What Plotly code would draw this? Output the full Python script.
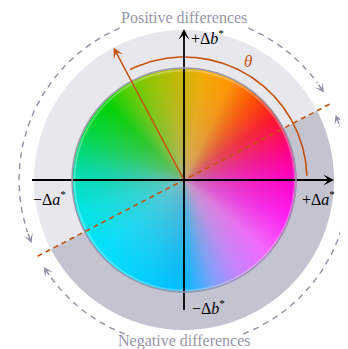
import numpy as np
import plotly.graph_objects as go

# ---------------- data ----------------
# hue stops of the a*b* colour wheel (angle in degrees CCW from +a*)
HUE_ANGLES = [0, 15, 35, 50, 65, 80, 90, 105, 120, 135, 155, 175, 195, 220, 250, 270, 285, 300, 320, 340, 360]
HUE_R = [255, 255, 255, 255, 255, 245, 205, 160, 100, 0, 0, 0, 0, 0, 0, 0, 120, 200, 245, 255, 255]
HUE_G = [0, 0, 20, 80, 150, 170, 180, 195, 205, 210, 215, 220, 228, 225, 205, 185, 160, 130, 100, 30, 0]
HUE_B = [200, 140, 40, 0, 0, 0, 0, 0, 0, 0, 70, 170, 225, 255, 255, 255, 255, 255, 255, 240, 200]
CENTER_GRAY = [175, 170, 168]

WHEEL_R = 112          # radius of the colour wheel
RING_R = 150           # outer radius of the grey ring
DASH_R = 165           # radius of the dashed "difference" circle
DIVIDER_ANGLE = 27.5   # angle of the orange dashed dividing line
HUE_ANGLE = 118        # angle of the orange hue arrow
THETA_ARC = [2, 116]   # extent of the theta arc
THETA_R = 123

POS_ARCS = [[67, 32], [113, 202.5]]      # positive differences arcs (start, arrow end)
NEG_ARCS = [[291, 383.3], [249, 211.8]]  # negative differences arcs (start, arrow end)

AXIS_LABELS = ["+Δ<i>b</i><sup>*</sup>", "−Δ<i>a</i><sup>*</sup>", "+Δ<i>a</i><sup>*</sup>", "−Δ<i>b</i><sup>*</sup>"]
AXIS_LABEL_POS = [[23, 143], [-135, -18], [134, -18], [24, -127]]
REGION_LABELS = ["Positive differences", "Negative differences"]
REGION_LABEL_Y = [163, -161]

ORANGE = "#c4520c"
GRAY_ARROW = "#9290a6"
SERIF = "Liberation Serif, DejaVu Serif, serif"

# ---------------- colour wheel image ----------------
n = WHEEL_R + 2
coords = np.arange(-n, n + 1, dtype=float)
X, Y = np.meshgrid(coords, coords)   # row 0 = bottom
r = np.hypot(X, Y)
ang = np.degrees(np.arctan2(Y, X)) % 360
base = np.stack([np.interp(ang, HUE_ANGLES, HUE_R),
                 np.interp(ang, HUE_ANGLES, HUE_G),
                 np.interp(ang, HUE_ANGLES, HUE_B)], axis=-1)
t = np.clip(r / WHEEL_R, 0, 1) ** 0.42
t = t[..., None]
gray = np.array(CENTER_GRAY, dtype=float)
rgb = gray * (1 - t) + base * t
# thin light highlight near the rim
rim = np.clip(1 - np.abs(r - (WHEEL_R - 2.0)) / 1.5, 0, 1)[..., None] * 0.35
rgb = rgb * (1 - rim) + 255 * rim
alpha = np.clip(WHEEL_R - r + 0.5, 0, 1)
img = np.concatenate([np.round(rgb), alpha[..., None]], axis=-1)

fig = go.Figure()
fig.add_trace(go.Image(z=img, colormodel="rgba", x0=-n, y0=-n, dx=1, dy=1,
                       zmin=[0, 0, 0, 0], zmax=[255, 255, 255, 1], hoverinfo="skip"))


def half_ring_path(a0, r_in, r_out):
    a = np.radians(np.linspace(a0, a0 + 180, 121))
    pts = [(r_out * np.cos(v), r_out * np.sin(v)) for v in a]
    pts += [(r_in * np.cos(v), r_in * np.sin(v)) for v in a[::-1]]
    return "M " + " L ".join(f"{x:.2f},{y:.2f}" for x, y in pts) + " Z"


shapes = [
    dict(type="path", path=half_ring_path(DIVIDER_ANGLE, WHEEL_R - 1, RING_R),
         fillcolor="#e8e7ed", line=dict(width=0), layer="below"),
    dict(type="path", path=half_ring_path(DIVIDER_ANGLE + 180, WHEEL_R - 1, RING_R),
         fillcolor="#c4c3d0", line=dict(width=0), layer="below"),
    dict(type="circle", x0=-WHEEL_R, y0=-WHEEL_R, x1=WHEEL_R, y1=WHEEL_R,
         line=dict(color="#9a98aa", width=1.5), layer="above"),
]


def arc_xy(a0, a1, rad, num=200):
    a = np.radians(np.linspace(a0, a1, num))
    return rad * np.cos(a), rad * np.sin(a)


annotations = []

# dashed difference arcs with arrowheads
for a0, a1 in POS_ARCS + NEG_ARCS:
    step = 4 if a1 > a0 else -4
    xs, ys = arc_xy(a0, a1 - step, DASH_R)
    fig.add_trace(go.Scatter(x=xs, y=ys, mode="lines", hoverinfo="skip",
                             line=dict(color=GRAY_ARROW, width=1.4, dash="6px,5px")))
    xt, yt = arc_xy(a1 - step, a1, DASH_R, 2)
    annotations.append(dict(x=xt[1], y=yt[1], ax=xt[0], ay=yt[0], xref="x", yref="y",
                            axref="x", ayref="y", text="", showarrow=True, arrowhead=3,
                            arrowsize=1.1, arrowwidth=1.4, arrowcolor=GRAY_ARROW))

# orange dividing line
dv = np.radians(DIVIDER_ANGLE)
fig.add_trace(go.Scatter(x=[-DASH_R * np.cos(dv), DASH_R * np.cos(dv)],
                         y=[-DASH_R * np.sin(dv), DASH_R * np.sin(dv)],
                         mode="lines", hoverinfo="skip",
                         line=dict(color=ORANGE, width=1.6, dash="5px,4px")))

# theta arc
xs, ys = arc_xy(THETA_ARC[0], THETA_ARC[1], THETA_R)
fig.add_trace(go.Scatter(x=xs, y=ys, mode="lines", hoverinfo="skip",
                         line=dict(color=ORANGE, width=1.6)))

# axes
fig.add_trace(go.Scatter(x=[-152, 146], y=[0, 0], mode="lines", hoverinfo="skip",
                         line=dict(color="black", width=1.8)))
fig.add_trace(go.Scatter(x=[0, 0], y=[-130, 146], mode="lines", hoverinfo="skip",
                         line=dict(color="black", width=1.8)))
annotations.append(dict(x=150, y=0, ax=140, ay=0, xref="x", yref="y", axref="x", ayref="y",
                        text="", showarrow=True, arrowhead=3, arrowsize=1, arrowwidth=1.8,
                        arrowcolor="black"))
annotations.append(dict(x=0, y=151, ax=0, ay=140, xref="x", yref="y", axref="x", ayref="y",
                        text="", showarrow=True, arrowhead=3, arrowsize=1, arrowwidth=1.8,
                        arrowcolor="black"))

# hue arrow
ha = np.radians(HUE_ANGLE)
annotations.append(dict(x=RING_R * np.cos(ha), y=RING_R * np.sin(ha), ax=0, ay=0,
                        xref="x", yref="y", axref="x", ayref="y", text="", showarrow=True,
                        arrowhead=3, arrowsize=1.2, arrowwidth=1.5, arrowcolor=ORANGE))

# theta label
annotations.append(dict(x=64, y=119, xref="x", yref="y", text="<i>θ</i>", showarrow=False,
                        font=dict(family=SERIF, size=17, color=ORANGE)))

for txt, (lx, ly) in zip(AXIS_LABELS, AXIS_LABEL_POS):
    annotations.append(dict(x=lx, y=ly, xref="x", yref="y", text=txt, showarrow=False,
                            font=dict(family=SERIF, size=16, color="black")))

for txt, ly in zip(REGION_LABELS, REGION_LABEL_Y):
    annotations.append(dict(x=0, y=ly, xref="x", yref="y", text=txt, showarrow=False,
                            font=dict(family=SERIF, size=16, color="#9896aa")))

# the page body adds an 8px margin, so the figure covers page pixels 8..348 / 8..349
fig.update_layout(
    width=340, height=341, margin=dict(l=0, r=0, t=0, b=0),
    paper_bgcolor="white", plot_bgcolor="white", showlegend=False,
    xaxis=dict(range=[-176, 164], visible=False, fixedrange=True),
    yaxis=dict(range=[-169, 172], visible=False, scaleanchor="x", scaleratio=1, fixedrange=True),
    shapes=shapes, annotations=annotations,
)

fig.write_html("out.html")
